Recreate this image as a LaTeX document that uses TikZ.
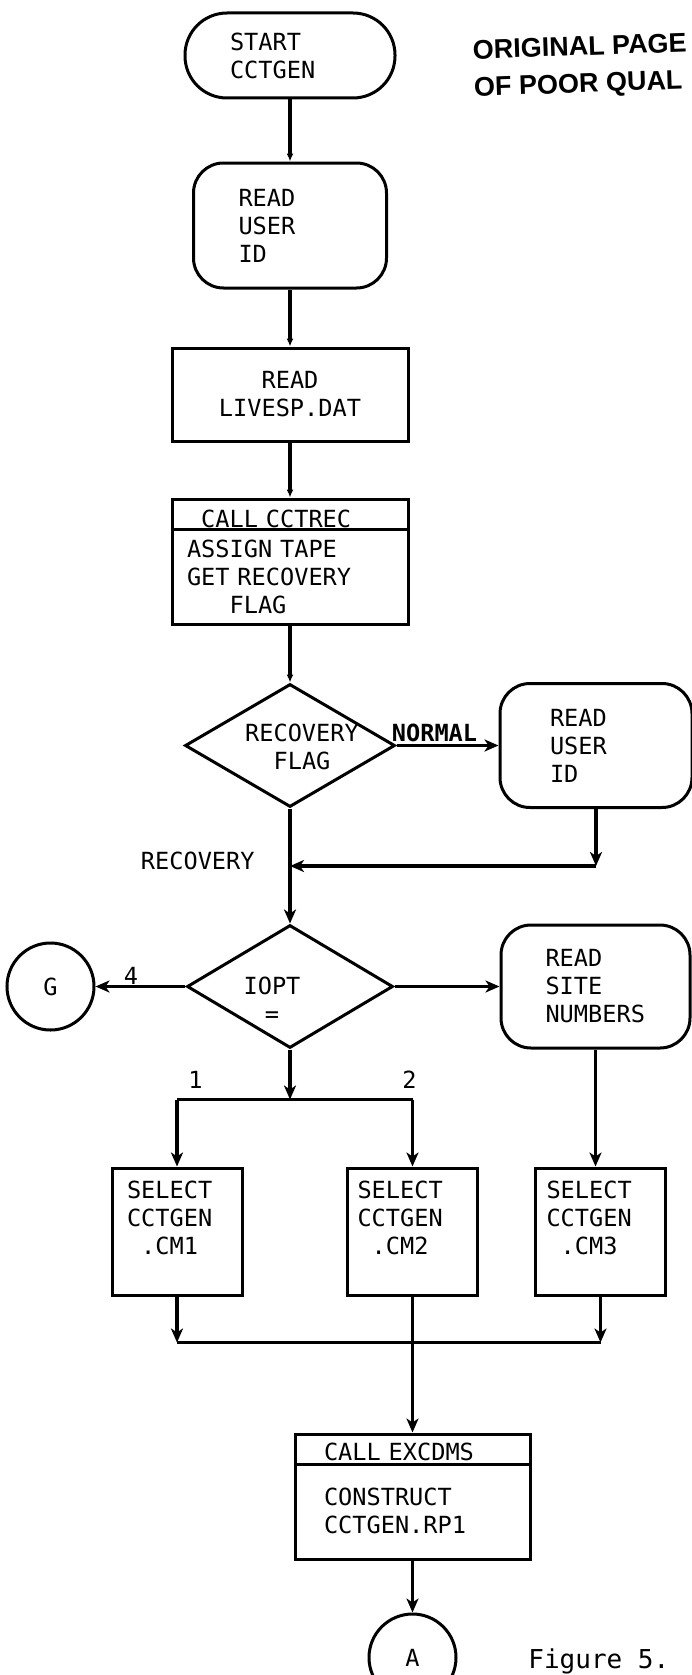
\documentclass[tikz,border=0pt]{standalone}
\usepackage{fontspec}
\usepackage{tikz}
\usetikzlibrary{arrows.meta,positioning,shapes.geometric,calc}
\newfontfamily\chartfont{DejaVu Sans Mono}
\newfontfamily\stampfont{Liberation Sans}

\begin{document}
\begin{tikzpicture}[every node/.style={font=\chartfont\fontsize{11.8pt}{14pt}\selectfont}, term/.style={draw,line width=1.5pt,rounded corners=21pt,align=left,minimum height=42.5pt,inner ysep=0pt}, rbox/.style={draw,line width=1.5pt,rounded corners=15pt,align=left,inner ysep=0pt}, b/.style={draw,line width=1.5pt,align=left,inner ysep=0pt}, sel/.style={b,minimum height=63.5pt,text width=55pt,inner xsep=5pt,text depth=42pt}, dec/.style={draw,diamond,line width=1.5pt,inner sep=0pt,minimum height=61.5pt}, conn/.style={draw,circle,line width=1.5pt,inner sep=0pt,minimum size=43.5pt}, lbl/.style={inner sep=0pt}, ln/.style={line width=1.6pt}, a/.style={-{Stealth[length=7pt,width=6pt,inset=2pt]},line width=1.6pt}, as/.style={-{Latex[length=4pt,width=3.5pt]},line width=1.6pt}]
\useasboundingbox[fill=white] (0,0) rectangle (345.5pt,-837.5pt);
% main column
\node[term,text width=60pt,inner xsep=22.5pt] (start) at (145pt,-27.75pt) {START\\CCTGEN};
\node[rbox,below=31pt of start,text width=51.5pt,inner xsep=22.5pt,minimum height=62.5pt] (rui) {READ\\USER\\ID};
\node[b,below=28.5pt of rui,align=center,text width=108pt,inner xsep=5pt,minimum height=46.5pt] (livesp) {READ\\LIVESP.DAT};
\node[b,below=27.5pt of livesp,text width=103pt,inner xsep=7.5pt,minimum height=62.5pt] (cctrec) {\phantom{X}CALL CCTREC\\[1pt]ASSIGN TAPE\\GET RECOVERY\\\phantom{XXX}FLAG};
\node[dec,below=28.5pt of cctrec,minimum width=105pt] (recflag) {};
\node[lbl,align=center] (recflagtxt) at ([xshift=6pt,yshift=-0.5pt]recflag.center) {RECOVERY\\FLAG};
\node[dec,below=57.5pt of recflag,minimum width=103pt] (iopt) {};
\node[lbl,align=center] (iopttxt) at ([xshift=-9pt,yshift=-6.5pt]iopt.center) {IOPT\\=};
% side branches
\node[rbox,right=51pt of recflag,text width=46pt,inner xsep=25pt,minimum height=62pt] (rui2) {READ\\USER\\ID};
\node[rbox,right=52.5pt of iopt,text width=50pt,inner xsep=22.25pt,minimum height=61.5pt] (site) {READ\\SITE\\NUMBERS};
\node[conn,left=45pt of iopt] (cg) {G};
\coordinate (mrg) at ($(recflag.south)!0.5!(iopt.north)$);
\coordinate (crn) at (rui2.south |- mrg);
% select boxes
\coordinate[below=25pt of iopt] (split);
\node[sel,below=33.5pt of split,xshift=-56.5pt,text width=50pt,inner xsep=7.5pt] (cm1) {SELECT\\CCTGEN\\\phantom{X}.CM1};
\node[sel,below=33.5pt of split,xshift=61.25pt] (cm2) {SELECT\\CCTGEN\\\phantom{X}.CM2};
\node[sel,right=27.5pt of cm2,inner xsep=5.5pt,text width=54pt] (cm3) {SELECT\\CCTGEN\\\phantom{X}.CM3};
\coordinate (b1) at (cm1.north |- split);
\coordinate (b2) at (cm2.north |- split);
\coordinate[below=23pt of cm1] (m1);
\coordinate (m3) at (cm3 |- m1);
\node[b,below=68pt of cm2,text width=88.5pt,inner xsep=14.5pt,minimum height=62.5pt,text depth=45pt] (excdms) {CALL EXCDMS\\[8.5pt]CONSTRUCT\\CCTGEN.RP1};
\node[conn,below=26pt of excdms] (ca) {A};
\draw[line width=1.5pt] ([yshift=-16pt]cctrec.north west) -- ([yshift=-16pt]cctrec.north east);
\draw[line width=1.5pt] ([yshift=-16pt]excdms.north west) -- ([yshift=-16pt]excdms.north east);
% labels
\node[lbl,font=\chartfont\bfseries\fontsize{11.8pt}{14pt}\selectfont,above right=1.5pt and -2.5pt of recflag.east] (nrm) {NORMAL};
\node[lbl,left=17.5pt of mrg,yshift=2.5pt] (rlbl) {RECOVERY};
\node[lbl,above left=1pt and 23.5pt of iopt.west] (n4) {4};
\node[lbl,above right=5.5pt and 5.5pt of b1] (n1) {1};
\node[lbl,above right=5.5pt and -5.25pt of b2] (n2) {2};
\node[lbl,font=\stampfont\bfseries\fontsize{13.5pt}{18.5pt}\selectfont,align=left,anchor=north west,rotate=2] (orig) at (236pt,-20pt) {ORIGINAL PAGE\\OF POOR QUAL};
\node[lbl,font=\chartfont\fontsize{13pt}{15pt}\selectfont,anchor=base west] (figcap) at (264pt,-834pt) {Figure 5.};
% connectors
\draw[as] (start)--(rui);\draw[as] (rui)--(livesp);\draw[as] (livesp)--(cctrec);\draw[as] (cctrec)--(recflag);
\draw[a] (recflag)--(rui2);\draw[a] (recflag)--(iopt);\draw[a] (rui2)--(crn);\draw[a] (crn)--(mrg);
\draw[a] (iopt)--(cg);\draw[a] (iopt)--(site);\draw[a] (iopt)--(split);
\draw[ln] (b1)--(b2);\draw[a] (b1)--(cm1);\draw[a] (b2)--(cm2);\draw[a] (site.south)--(site.south |- cm3.north);
\draw[a] (cm1)--(m1);\draw[a] (cm3)--(m3);\draw[ln] (m1)--(m3);\draw[a] (cm2)--(excdms);\draw[a] (excdms)--(ca);
\end{tikzpicture}
\end{document}
